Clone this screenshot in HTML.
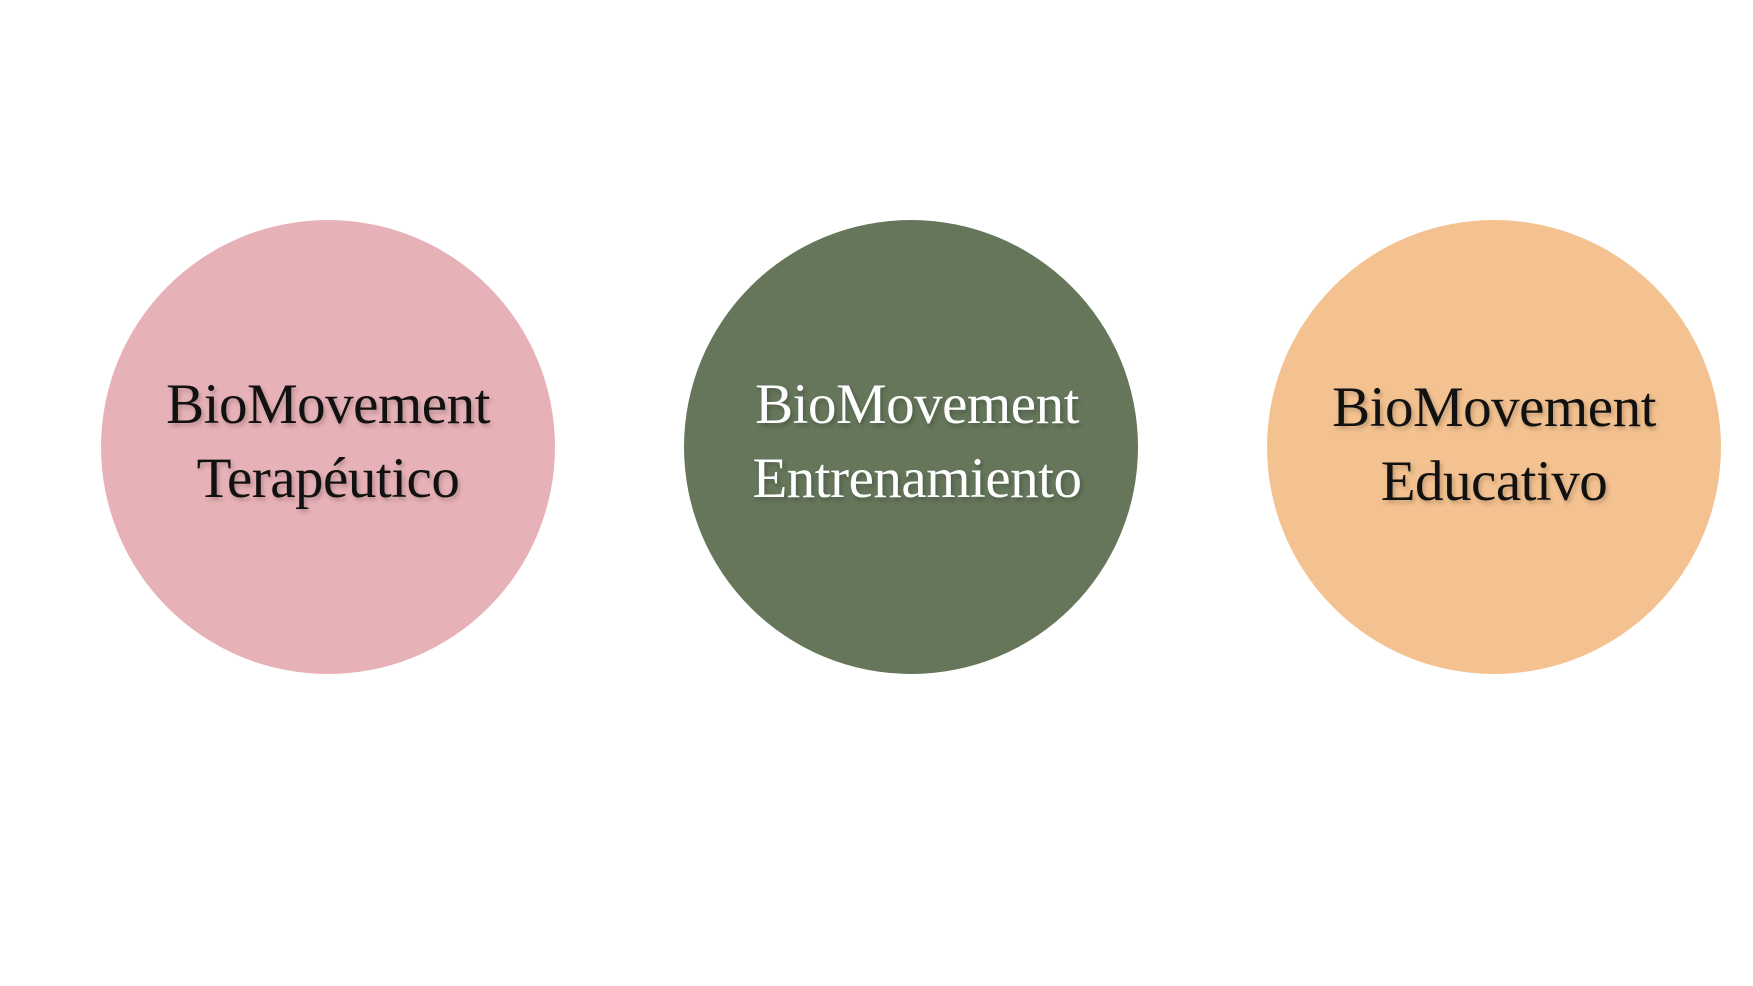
<!DOCTYPE html>
<html><head><meta charset="utf-8"><style>
html,body{margin:0;padding:0;background:#fff;}
body{width:1753px;height:986px;position:relative;overflow:hidden;}
.c{position:absolute;width:454px;height:454px;border-radius:50%;top:220px;}
.t{position:absolute;left:0;width:100%;text-align:center;font-family:"Liberation Serif",serif;font-size:57px;line-height:74px;top:148px;text-shadow:2px 3px 4px rgba(0,0,0,0.22);letter-spacing:-0.5px;}
</style></head><body>
<div class="c" style="left:101px;background:#e7b2b7;"><div class="t" style="color:#111;">BioMovement<br>Terapéutico</div></div>
<div class="c" style="left:684px;background:#65765a;"><div class="t" style="color:#fff;left:6px;">BioMovement<br>Entrenamiento</div></div>
<div class="c" style="left:1267px;background:#f4c290;"><div class="t" style="color:#111;top:151px;">BioMovement<br>Educativo</div></div>
</body></html>
